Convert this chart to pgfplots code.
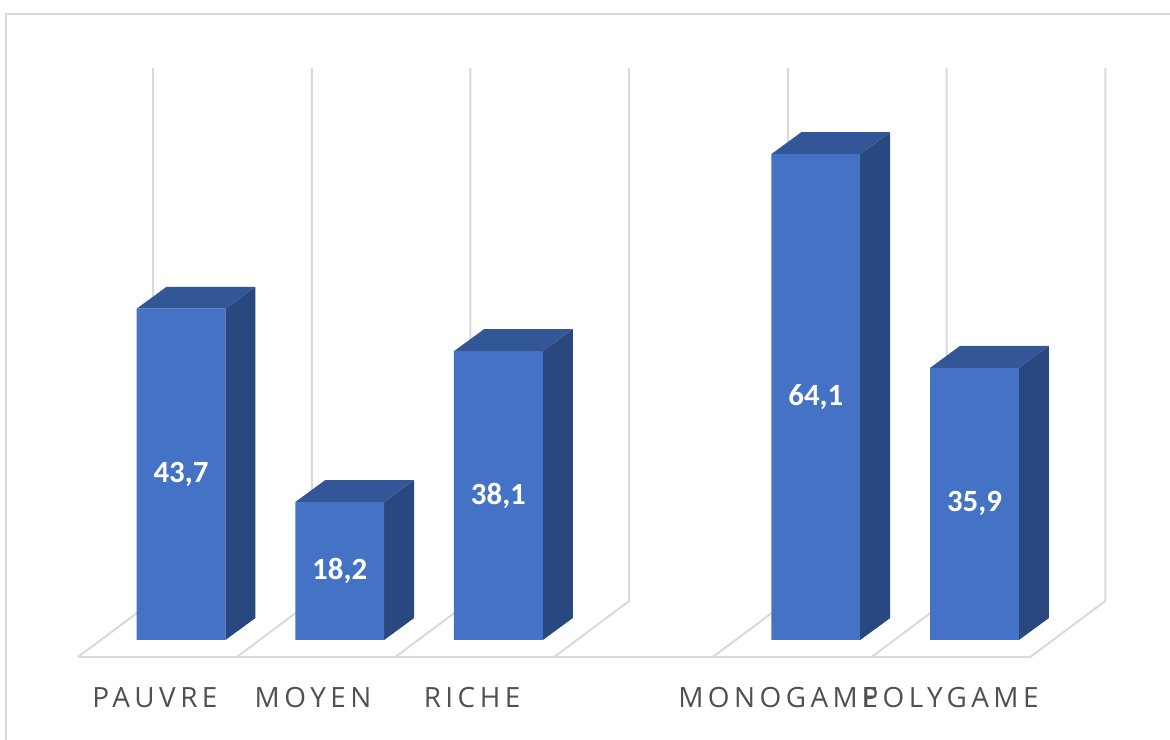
\documentclass[border=0pt]{standalone}
\usepackage{fontspec}
\setmainfont{Carlito}
\newfontfamily\labfont[LetterSpace=16]{Open Sans}
\usepackage{pgfplots}
\usepackage{pgfplotstable}
\pgfplotsset{compat=1.18}
\definecolor{front}{RGB}{68,114,196}
\definecolor{side}{RGB}{41,72,128}
\definecolor{topc}{RGB}{50,86,152}
\definecolor{gridc}{RGB}{217,217,217}
\definecolor{labc}{RGB}{80,80,80}

\pgfplotstableread{
i v lab
0 43.7 {43,7}
1 18.2 {18,2}
2 38.1 {38,1}
4 64.1 {64,1}
5 35.9 {35,9}
}\data

\pgfplotstableread{
x y lab
-0.164 -7.65 PAUVRE
0.832 -7.65 MOYEN
1.834 -7.65 RICHE
3.762 -7.65 MONOGAME
4.846 -7.65 POLYGAME
}\cats

% side and top faces of a 3D bar at category #1 with value #2
\newcommand\sidetop[2]{%
  \pgfmathsetmacro\xl{#1-0.28}%
  \pgfmathsetmacro\xr{#1+0.28}%
  \pgfmathsetmacro\xrb{#1+0.28+0.189}%
  \pgfmathsetmacro\xlb{#1-0.28+0.189}%
  \pgfmathsetmacro\yt{#2+2.9}%
  \edef\tmp{%
    \noexpand\addplot[fill=side,draw=none] coordinates {(\xr,0) (\xrb,2.9) (\xrb,\yt) (\xr,#2)} --cycle;
    \noexpand\addplot[fill=topc,draw=none] coordinates {(\xl,#2) (\xlb,\yt) (\xrb,\yt) (\xr,#2)} --cycle;
  }\tmp}

\begin{document}
\begin{tikzpicture}
\useasboundingbox (0,0) rectangle (585bp,370bp);
\begin{axis}[
  at={(0,0)}, anchor=south west,
  width=585bp, height=370bp, scale only axis,
  xmin=-1.1405, xmax=6.2319, ymin=-13.193, ymax=84.433,
  hide axis,
]
% chart frame
\addplot[gridc, line width=1.2bp] coordinates {(-1.1027,-20) (-1.1027,82.58) (7,82.58)};
% floor front edge
\addplot[gridc, line width=1bp] coordinates {(-0.649,-2.243) (5.351,-2.243)};
% floor diagonals and back-wall gridlines
\pgfplotsinvokeforeach{0,...,6}{
  \addplot[gridc, line width=1bp] coordinates {(-0.649+#1,-2.243) (-0.176+#1,5.145) (-0.176+#1,75.46)};
}
% side and top faces
\pgfplotsinvokeforeach{0,...,4}{
  \pgfplotstablegetelem{#1}{i}\of\data\let\ci\pgfplotsretval
  \pgfplotstablegetelem{#1}{v}\of\data\let\cv\pgfplotsretval
  \sidetop{\ci}{\cv}
}
% front faces
\addplot[ybar, bar width=0.56, bar shift=0pt, fill=front, draw=none] table[x=i,y=v]{\data};
% data labels
\addplot[draw=none, nodes near coords, point meta=explicit symbolic,
  nodes near coords style={anchor=center, text=white, font=\bfseries\fontsize{15.5}{16}\selectfont}]
  table[x=i, y expr=\thisrow{v}/2, meta=lab]{\data};
% category labels
\addplot[draw=none, nodes near coords, point meta=explicit symbolic,
  nodes near coords style={anchor=center, text=labc, font=\labfont\fontsize{14}{15}\selectfont}]
  table[x=x, y=y, meta=lab]{\cats};
\end{axis}
\end{tikzpicture}
\end{document}
